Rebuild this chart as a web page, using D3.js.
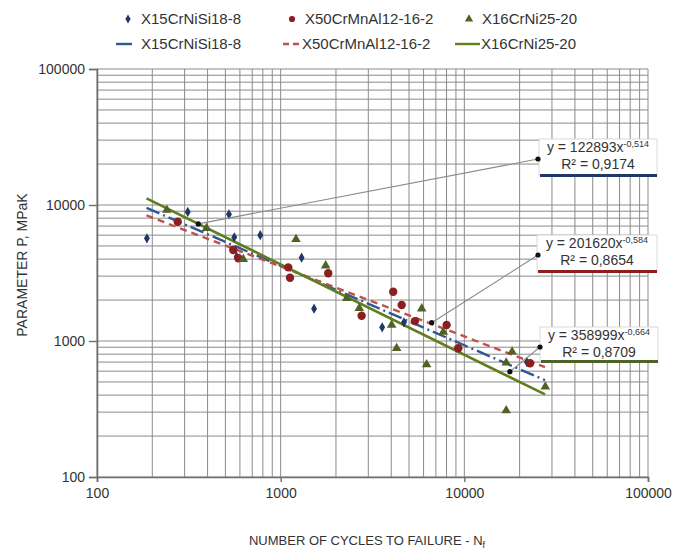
<!DOCTYPE html>
<html>
<head>
<meta charset="utf-8">
<script src="https://cdn.jsdelivr.net/npm/d3@7.9.0/dist/d3.min.js"></script>
<style>
  body { margin: 0; background: #fff; }
  text { font-family: "Liberation Sans", Arial, sans-serif; fill: #333; }
</style>
</head>
<body>
<div id="chart"></div>
<script>
// series
const seriesNames = ['X15CrNiSi18-8', 'X50CrMnAl12-16-2', 'X16CrNi25-20'];

// X15CrNiSi18-8 (cycles, parameter)
const blueN = [187, 312, 523, 559, 576, 774, 1300, 1520, 3570, 4690, 21900];
const blueP = [5690, 8900, 8540, 5790, 4170, 6000, 4100, 1730, 1260, 1370, 700];

// X50CrMnAl12-16-2
const redN = [275, 552, 588, 1100, 1124, 1816, 2760, 4100, 4560, 5380, 8010, 9270, 22800];
const redP = [7540, 4670, 4060, 3480, 2920, 3150, 1535, 2300, 1840, 1400, 1310, 884, 686];

// X16CrNi25-20
const greenN = [240, 395, 626, 1212, 1758, 2290, 2680, 4020, 4280, 5860, 6230, 7680, 18200, 16900, 16900, 27600];
const greenP = [9190, 6740, 3990, 5600, 3580, 2060, 1740, 1310, 884, 1730, 672, 1165, 834, 692, 308, 461];

// power trend lines as drawn (y = a * x^b), blue / red / green
const fitA = [201620, 122893, 358999];
const fitB = [-0.584, -0.514, -0.664];
const fitRange = [186, 27500];

// trendline labels
const eqCoef = ['122893', '201620', '358999'];
const eqExp = ['-0,514', '-0,584', '-0,664'];
const eqR2 = ['0,9174', '0,8654', '0,8709'];
const leaderN = [356, 6640, 17700];
const leaderP = [7260, 1363, 595];

const xTicks = [100, 1000, 10000, 100000];
const yTicks = [100, 1000, 10000, 100000];

const colors = ['#1f3864', '#8b1e1e', '#4f6228'];
const lineColors = ['#2e5a94', '#c0504d', '#5f7f1f'];

const width = 691, height = 551;
const margin = { top: 69, right: 43, bottom: 74, left: 97 };

const svg = d3.select('#chart').append('svg')
  .attr('width', width)
  .attr('height', height);

const x = d3.scaleLog().domain([100, 100000]).range([margin.left, width - margin.right]);
const y = d3.scaleLog().domain([100, 100000]).range([height - margin.bottom, margin.top]);

// grid (1..9 each decade)
const minor = [];
for (let d = 100; d < 100000; d *= 10) {
  for (let k = 1; k <= 9; k++) minor.push(d * k);
}
minor.push(100000);

const grid = svg.append('g');
grid.selectAll('line.v').data(minor).join('line')
  .attr('class', 'v')
  .attr('x1', d => x(d)).attr('x2', d => x(d))
  .attr('y1', y(100)).attr('y2', y(100000))
  .attr('stroke', '#8a8a8a').attr('stroke-width', 1);
grid.selectAll('line.h').data(minor).join('line')
  .attr('class', 'h')
  .attr('y1', d => y(d)).attr('y2', d => y(d))
  .attr('x1', x(100)).attr('x2', x(100000))
  .attr('stroke', '#8a8a8a').attr('stroke-width', 1);

// axes
const xAxis = svg.append('g')
  .attr('transform', `translate(0,${y(100)})`)
  .call(d3.axisBottom(x).tickValues(xTicks).tickFormat(d3.format('d')).tickSize(5).tickPadding(6));
const yAxis = svg.append('g')
  .attr('transform', `translate(${x(100)},0)`)
  .call(d3.axisLeft(y).tickValues(yTicks).tickFormat(d3.format('d')).tickSize(8).tickPadding(4));

[xAxis, yAxis].forEach(g => {
  g.select('.domain').attr('stroke', '#6e6e6e').attr('stroke-width', 1.6);
  g.selectAll('.tick line').attr('stroke', '#6e6e6e').attr('stroke-width', 1.4);
  g.selectAll('.tick text').style('font-size', '14px').style('font-family', '"Liberation Sans", Arial, sans-serif').attr('fill', '#333');
});

// axis titles
const xt = svg.append('text')
  .attr('x', 367).attr('y', 545)
  .attr('text-anchor', 'middle')
  .style('font-size', '13px')
  .text('NUMBER OF CYCLES TO FAILURE - N');
xt.append('tspan').attr('dy', 3).style('font-size', '9px').text('f');

svg.append('text')
  .attr('transform', 'translate(27,265) rotate(-90)')
  .attr('text-anchor', 'middle')
  .style('font-size', '14px')
  .text('PARAMETER P, MPaK');

// trend lines
const fitLine = d3.line().x(d => x(d[0])).y(d => y(d[1]));
const dashes = ['14,4,2,4', '7,5', null];
fitA.forEach((a, i) => {
  const pts = fitRange.map(n => [n, a * Math.pow(n, fitB[i])]);
  svg.append('path')
    .attr('d', fitLine(pts))
    .attr('fill', 'none')
    .attr('stroke', lineColors[i])
    .attr('stroke-width', i === 2 ? 2.6 : 2.4)
    .attr('stroke-dasharray', dashes[i]);
});

// markers
const diamond = d3.symbol().type(d3.symbolDiamond).size(30);
const tri = d3.symbol().type(d3.symbolTriangle).size(40);

svg.append('g').selectAll('path').data(d3.zip(blueN, blueP)).join('path')
  .attr('d', diamond)
  .attr('transform', d => `translate(${x(d[0])},${y(d[1])})`)
  .attr('fill', colors[0]);

svg.append('g').selectAll('circle').data(d3.zip(redN, redP)).join('circle')
  .attr('cx', d => x(d[0])).attr('cy', d => y(d[1]))
  .attr('r', 4.2)
  .attr('fill', colors[1]);

svg.append('g').selectAll('path').data(d3.zip(greenN, greenP)).join('path')
  .attr('d', tri)
  .attr('transform', d => `translate(${x(d[0])},${y(d[1])})`)
  .attr('fill', colors[2]);

// label boxes with leaders
const boxes = [
  { x: 539, y: 139, w: 118, h: 37 },
  { x: 537, y: 235, w: 120, h: 37 },
  { x: 540, y: 327, w: 118, h: 35 },
];
const anchors = [[538, 159], [538, 255], [540, 347]];

boxes.forEach((b, i) => {
  const [ax, ay] = anchors[i];
  const px = x(leaderN[i]), py = y(leaderP[i]);
  svg.append('line')
    .attr('x1', ax).attr('y1', ay).attr('x2', px).attr('y2', py)
    .attr('stroke', '#8a8a8a').attr('stroke-width', 1.1);

  svg.append('rect')
    .attr('x', b.x).attr('y', b.y).attr('width', b.w).attr('height', b.h)
    .attr('fill', '#fff').attr('stroke', '#d0d0d0').attr('stroke-width', 0.8);
  svg.append('rect')
    .attr('x', b.x + 1).attr('y', b.y + b.h - 2).attr('width', b.w - 1).attr('height', 3)
    .attr('fill', colors[i]);

  const cx = b.x + b.w / 2;
  const t1 = svg.append('text')
    .attr('x', cx).attr('y', b.y + 13)
    .attr('text-anchor', 'middle')
    .style('font-size', '14px')
    .text(`y = ${eqCoef[i]}x`);
  t1.append('tspan').attr('dy', -5).style('font-size', '9px').text(eqExp[i]);

  svg.append('text')
    .attr('x', cx).attr('y', b.y + 30)
    .attr('text-anchor', 'middle')
    .style('font-size', '14px')
    .text(`R² = ${eqR2[i]}`);

  svg.append('circle').attr('cx', ax).attr('cy', ay).attr('r', 2.6).attr('fill', '#111');
  svg.append('circle').attr('cx', px).attr('cy', py).attr('r', 2.6).attr('fill', '#111');
});

// legend
const leg = svg.append('g');
const row1 = [[128, 141], [292, 305], [469, 482]];
const row2 = [[116, 132, 141], [283, 301, 302], [455, 480, 481]];

row1.forEach(([mx, tx], i) => {
  const sym = i === 0 ? d3.symbol().type(d3.symbolDiamond).size(24)
    : i === 1 ? d3.symbol().type(d3.symbolCircle).size(30)
    : d3.symbol().type(d3.symbolTriangle).size(30);
  leg.append('path').attr('d', sym).attr('transform', `translate(${mx},19)`).attr('fill', colors[i]);
  leg.append('text').attr('x', tx).attr('y', 24).style('font-size', '15px').text(seriesNames[i]);
});

row2.forEach(([x1, x2, tx], i) => {
  leg.append('line')
    .attr('x1', x1).attr('x2', x2).attr('y1', 44).attr('y2', 44)
    .attr('stroke', lineColors[i]).attr('stroke-width', 2.4)
    .attr('stroke-dasharray', i === 1 ? '6,4' : null);
  leg.append('text').attr('x', tx).attr('y', 49).style('font-size', '15px').text(seriesNames[i]);
});
</script>
</body>
</html>
